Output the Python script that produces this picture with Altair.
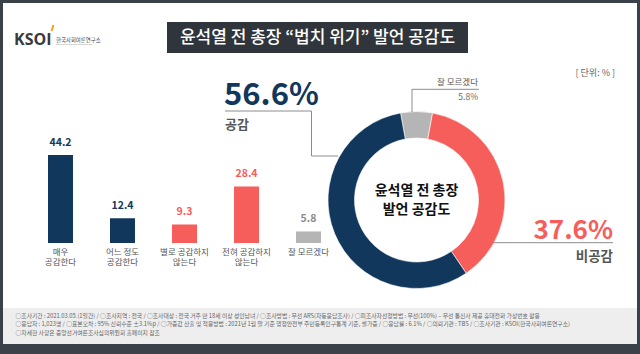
import math
import altair as alt
import pandas as pd

# ---------------- data ----------------
categories = ["매우\n공감한다", "어느 정도\n공감한다", "별로 공감하지\n않는다", "전혀 공감하지\n않는다", "잘 모르겠다"]
bar_values = [44.2, 12.4, 9.3, 28.4, 5.8]

donut_groups = ["잘 모르겠다", "비공감", "공감"]
donut_values = [5.8, 37.6, 56.6]

title_text = "윤석열 전 총장 “법치 위기” 발언 공감도"
center_lines = ["윤석열 전 총장", "발언 공감도"]
unit_text = "[ 단위: % ]"
footer_lines = [
    "○조사기간 : 2021.03.05.(1일간)  / ○조사지역 : 전국 / ○조사대상 : 전국 거주 만 18세 이상 성인남녀 / ○조사방법 : 무선 ARS(자동응답조사) / ○피조사자선정방법 : 무선(100%) – 무선 통신사 제공 휴대전화 가상번호 활용",
    "○응답자 : 1,023명 / ○표본오차 : 95% 신뢰수준 ±3.1%p / ○가중값 산출 및 적용방법 : 2021년 1월 말 기준 행정안전부 주민등록인구통계 기준, 셀가중 / ○응답률 : 6.1% / ○의뢰기관 : TBS / ○조사기관 : KSOI(한국사회여론연구소)",
    "○자세한 사항은 중앙선거여론조사심의위원회 홈페이지 참조",
]

# ---------------- styles ----------------
NAVY = "#12375c"
RED = "#f65e5b"
GRAY = "#b5b5b5"
bar_colors = [NAVY, NAVY, RED, RED, GRAY]
label_colors = [NAVY, NAVY, RED, RED, "#8a8a8a"]
donut_colors = [GRAY, RED, NAVY]
KR = "Noto Sans CJK KR"
LINE = "#8c8c8c"

one = pd.DataFrame({"k": [0]})


def txt(s, x, y, size, color, weight="normal", align="left", baseline="middle", font=KR, **kw):
    return alt.Chart(one).mark_text(text=s, x=x, y=y, fontSize=size, color=color,
                                    fontWeight=weight, align=align, baseline=baseline,
                                    font=font, **kw)


def seg(x1, y1, x2, y2, color=LINE, w=1):
    return alt.Chart(one).mark_rule(color=color, strokeWidth=w).encode(
        x=alt.value(x1), y=alt.value(y1), x2=alt.value(x2), y2=alt.value(y2))


def box(x1, y1, x2, y2, color):
    return alt.Chart(one).mark_rect(color=color).encode(
        x=alt.value(x1), y=alt.value(y1), x2=alt.value(x2), y2=alt.value(y2))


# ---------------- bars ----------------
bars_df = pd.DataFrame({"cat": categories, "value": bar_values,
                        "label": [f"{v}" for v in bar_values]})
xscale = alt.Scale(domain=categories, range=[29.5, 339.5], paddingInner=0.597, paddingOuter=0.2984)
yscale = alt.Scale(domain=[0, 50], range=[243, 143.5], nice=False, zero=True)
xaxis = alt.Axis(orient="bottom", offset=-111, labels=False, title=None, domainColor=LINE,
                 tickColor=LINE, tickSize=3, tickBand="extent", grid=False)

bars = alt.Chart(bars_df).mark_bar().encode(
    x=alt.X("cat:N", scale=xscale, axis=xaxis, sort=categories),
    y=alt.Y("value:Q", scale=yscale, axis=None),
    color=alt.Color("cat:N", scale=alt.Scale(domain=categories, range=bar_colors), legend=None),
)
bar_labels = alt.Chart(bars_df).mark_text(font=KR, fontSize=10.5, fontWeight="bold", dy=-12).encode(
    x=alt.X("cat:N", scale=xscale, sort=categories),
    y=alt.Y("value:Q", scale=yscale),
    text="label:N",
    color=alt.Color("cat:N", scale=alt.Scale(domain=categories, range=label_colors), legend=None),
)
cat_labels = alt.Chart(bars_df).mark_text(font=KR, fontSize=8.5, color="#555555", lineBreak="\n",
                                          baseline="top", lineHeight=10.5).encode(
    x=alt.X("cat:N", scale=xscale, sort=categories),
    y=alt.value(247.5),
    text="cat:N",
)

# ---------------- donut ----------------
donut_df = pd.DataFrame({"group": donut_groups, "value": donut_values,
                         "ord": list(range(len(donut_groups)))})
t0 = math.radians(349.6)
donut = alt.Chart(donut_df).mark_arc(radius=88.5, radius2=62, stroke="white", strokeWidth=0.6).encode(
    theta=alt.Theta("value:Q", stack=True, scale=alt.Scale(range=[t0, t0 + 2 * math.pi])),
    order=alt.Order("ord:Q"),
    color=alt.Color("group:N", scale=alt.Scale(domain=donut_groups, range=donut_colors), legend=None),
    x=alt.value(416.5),
    y=alt.value(200),
)

layers = [
    box(3, 3, 637, 344, "white"),
    box(3, 308, 637, 344, "#eeeeee"),
    # logo
    txt("KSOI", 14, 40, 16, "#3a3a3a", weight="bold", font="Open Sans"),
    seg(51.5, 31, 53.5, 25, color="#f5a21b", w=2),
    txt("한국사회여론연구소", 56, 39.5, 5.4, "#444444"),
    seg(56, 44.5, 92, 44.5, color="#bbbbbb", w=0.6),
    # title
    box(167, 22, 468, 53, "#2f353b"),
    txt(title_text, 317.5, 38, 17, "white", weight=500, align="center"),
    txt(unit_text, 615, 72.5, 9, "#666666", align="right"),
    # bars
    bars, bar_labels, cat_labels,
    # donut
    donut,
    txt(center_lines[0], 416.5, 191, 14, "#111111", weight="bold", align="center"),
    txt(center_lines[1], 416.5, 209.5, 14, "#111111", weight="bold", align="center"),
    # 공감 annotation
    txt(f"{donut_values[2]}%", 224, 105, 31, NAVY, weight="bold", baseline="alphabetic"),
    seg(225, 111, 311.5, 111),
    seg(311.5, 111, 311.5, 156),
    seg(311.5, 156, 338, 156),
    txt(donut_groups[2], 225, 125, 13, "#555555", weight="bold"),
    # 비공감 annotation
    txt(f"{donut_values[1]}%", 613, 238.5, 26, RED, weight="bold", align="right", baseline="alphabetic"),
    seg(493, 242.7, 613, 242.7),
    txt(donut_groups[1], 613, 256.5, 13.5, "#555555", weight="bold", align="right"),
    # 잘 모르겠다 annotation
    txt(donut_groups[0], 478, 82.3, 8.5, "#555555", align="right"),
    seg(412, 89.3, 479, 89.3),
    seg(412, 89.3, 412, 112),
    txt(f"{donut_values[0]}%", 478, 96.7, 8.5, "#666666", align="right"),
]

for i, line in enumerate(footer_lines):
    layers.append(txt(line, 15.5, 316 + i * 8.4, 5.8, "#666666"))

chart = alt.layer(*layers).resolve_scale(color="independent").properties(
    width=640, height=354, padding=0, autosize=alt.AutoSizeParams(type="none"),
    background="#3b4148",
).configure_view(stroke=None)

chart.save("out.html", embed_options={"renderer": "svg", "actions": False})
